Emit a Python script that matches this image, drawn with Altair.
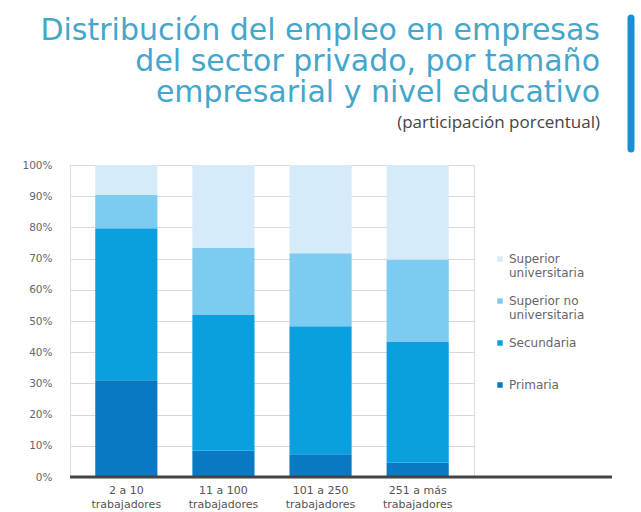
import altair as alt
import pandas as pd

# ---- data ----
categories = ["2 a 10\ntrabajadores", "11 a 100\ntrabajadores",
              "101 a 250\ntrabajadores", "251 a más\ntrabajadores"]
levels = ["Primaria", "Secundaria", "Superior no universitaria", "Superior universitaria"]
primaria = [31.0, 8.4, 7.3, 4.6]
secundaria = [48.7, 43.5, 41.0, 38.7]
superior_no_univ = [10.7, 21.6, 23.4, 26.4]
superior_univ = [9.6, 26.5, 28.3, 30.3]
y_ticks = [0, 10, 20, 30, 40, 50, 60, 70, 80, 90, 100]

title_lines = ["Distribución del empleo en empresas",
               "del sector privado, por tamaño",
               "empresarial y nivel educativo"]
subtitle = "(participación porcentual)"

legend_order = ["Superior universitaria", "Superior no universitaria", "Secundaria", "Primaria"]
colors = ["#d5ebf9", "#7ecbf1", "#0aa0df", "#0a79c3"]

series = [primaria, secundaria, superior_no_univ, superior_univ]
rows = []
for li, (lvl, vals) in enumerate(zip(levels, series)):
    for c, v in zip(categories, vals):
        rows.append({"cat": c, "nivel": lvl, "valor": v, "ord": li})
df = pd.DataFrame(rows)

FONT = "Open Sans"
WIDE = "DejaVu Sans"

legend_label_expr = ("datum.label == 'Superior universitaria' ? ['Superior', 'universitaria'] : "
                     "datum.label == 'Superior no universitaria' ? ['Superior no', 'universitaria'] : datum.label")

y_axis = alt.Axis(title=None, values=y_ticks, labelExpr="datum.value + '%'",
                  labelFontSize=10.5, labelColor="#666666", labelFont=WIDE,
                  labelPadding=18, ticks=False, domain=False, labelOverlap=False,
                  gridColor="#d9d9d9", gridWidth=1)
y_scale = alt.Scale(domain=[0, 100], nice=False)

bars = alt.Chart(df).mark_bar().encode(
    x=alt.X("cat:N", sort=categories,
            scale=alt.Scale(paddingInner=0.36, paddingOuter=0.26),
            axis=alt.Axis(title=None, labelAngle=0, labelExpr="split(datum.label, '\\n')",
                          labelFontSize=11, labelColor="#555555", labelFont=WIDE,
                          labelPadding=7, ticks=False, domain=False, grid=False,
                          labelLineHeight=14)),
    y=alt.Y("valor:Q", stack="zero", scale=y_scale, axis=y_axis),
    color=alt.Color("nivel:N",
                    scale=alt.Scale(domain=legend_order, range=colors),
                    legend=alt.Legend(title=None, orient="none", legendX=424, legendY=88,
                                      symbolType="square", symbolSize=30,
                                      labelExpr=legend_label_expr, labelFontSize=12,
                                      labelColor="#666666", labelFont=WIDE, labelOffset=3,
                                      gridAlign="all", rowPadding=16, padding=0)),
    order=alt.Order("ord:Q", sort="ascending"),
)

baseline = alt.Chart(pd.DataFrame({"v": [0]})).mark_rule(color="#444444", strokeWidth=3).encode(
    y=alt.Y("v:Q", scale=y_scale, axis=y_axis), x=alt.value(0), x2=alt.value(542)
)

title = alt.Chart(pd.DataFrame({"t": ["\n".join(title_lines)]})).mark_text(
    align="right", baseline="alphabetic", lineBreak="\n", lineHeight=31,
    fontSize=30, font=WIDE, color="#45a6cb"
).encode(text="t:N", x=alt.value(530), y=alt.value(-125))

sub = alt.Chart(pd.DataFrame({"t": [subtitle]})).mark_text(
    align="right", baseline="alphabetic", fontSize=17, font=FONT, color="#444444"
).encode(text="t:N", x=alt.value(530), y=alt.value(-37))

bar_accent = alt.Chart(pd.DataFrame({"v": [0]})).mark_rule(
    color="#1b8fd2", strokeWidth=7, strokeCap="round"
).encode(x=alt.value(561), y=alt.value(-147), y2=alt.value(-16))

chart = alt.layer(bars, baseline, title, sub, bar_accent).properties(
    width=404, height=312,
    autosize=alt.AutoSizeParams(type="none"),
    padding={"left": 70, "top": 165, "right": 167, "bottom": 35},
).configure_view(stroke="transparent", strokeWidth=0).configure(background="white")

chart.save("out.html", embed_options={"renderer": "svg", "actions": False})
